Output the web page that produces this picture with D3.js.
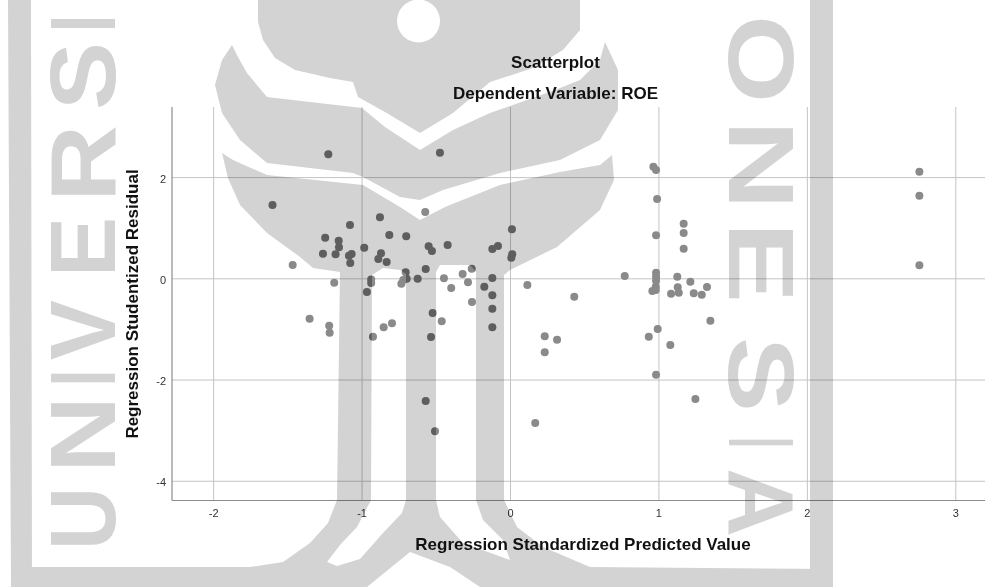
<!DOCTYPE html>
<html><head><meta charset="utf-8">
<script src="https://cdn.jsdelivr.net/npm/d3@7"></script>
<style>
html,body{margin:0;padding:0;background:#fff}
svg{display:block;filter:blur(0.35px)}
text{font-family:"Liberation Sans",Arial,sans-serif}
</style></head><body>
<svg id="c" width="985" height="587"></svg>
<script>
const titleText = "Scatterplot";
const subtitleText = "Dependent Variable: ROE";
const xLabel = "Regression Standardized Predicted Value";
const yLabel = "Regression Studentized Residual";
const xTicks = [-2,-1,0,1,2,3];
const yTicks = [2,0,-2,-4];
const predicted = [-1.60,-0.876,-1.078,-0.571,-1.245,-1.154,-1.152,-0.813,-0.699,0.013,-0.982,-1.26,-1.175,-1.067,-1.085,-1.076,-0.869,-0.887,-0.831,-0.548,-0.526,-0.42,-0.081,-0.119,0.015,0.009,-1.464,-0.568,-0.258,-0.703,-0.319,-0.119,-1.184,-0.935,-0.935,-0.696,-0.622,-0.445,-0.283,-0.719,-0.732,-0.396,-0.173,0.117,-0.964,-0.119,-0.256,-0.119,-1.35,-1.218,-1.215,-0.795,-0.851,-0.923,-0.521,-0.46,-0.532,-0.119,-1.224,-0.472,-0.568,-0.505,0.433,0.773,0.966,0.984,0.991,0.984,1.17,1.17,1.17,2.758,2.758,2.758,0.984,0.984,0.984,0.982,0.982,0.959,1.127,1.215,1.327,1.13,1.137,1.085,1.238,1.292,1.35,0.995,0.935,1.08,0.984,1.249,0.17,0.234,0.317,0.234];
const residual = [1.45,1.205,1.053,1.31,0.80,0.743,0.613,0.856,0.83,0.968,0.605,0.486,0.474,0.48,0.447,0.302,0.494,0.381,0.322,0.632,0.54,0.658,0.638,0.579,0.474,0.407,0.263,0.184,0.19,0.119,0.085,0.006,-0.087,-0.024,-0.093,-0.008,-0.008,0,-0.079,-0.034,-0.107,-0.192,-0.166,-0.132,-0.271,-0.336,-0.468,-0.601,-0.798,-0.937,-1.075,-0.889,-0.968,-1.154,-0.686,-0.85,-1.16,-0.968,2.451,2.482,-2.425,-3.024,-0.364,0.045,2.206,2.14,1.567,0.85,1.079,0.895,0.585,2.107,1.632,0.257,0.111,0.032,-0.047,-0.166,-0.231,-0.251,0.032,-0.067,-0.172,-0.178,-0.285,-0.304,-0.296,-0.324,-0.838,-1.002,-1.154,-1.318,-1.905,-2.385,-2.86,-1.146,-1.213,-1.462];

// watermark decoration (scanned emblem behind the chart)
const wmShapes = [
 [[258,0],[258,22],[263,40],[275,58],[295,70],[330,78],[353,82],[358,97],[385,112],[420,133],[453,113],[490,82],[533,68],[563,50],[580,30],[580,0]],
 [[232,45],[222,60],[215,85],[222,113],[240,140],[267,163],[353,173],[363,177],[400,197],[420,200],[443,190],[500,173],[560,160],[600,140],[618,110],[618,70],[605,42],[600,60],[580,80],[555,90],[490,113],[453,130],[420,150],[385,127],[362,108],[267,97],[247,73],[238,57]],
 [[222,153],[233,160],[267,175],[363,185],[400,207],[420,220],[445,207],[500,185],[560,172],[600,165],[612,155],[614,180],[600,210],[557,247],[510,270],[504,275],[476,272],[470,265],[440,265],[436,272],[406,274],[400,270],[383,268],[372,275],[340,272],[313,268],[300,257],[267,233],[240,205],[228,178]],
 [[340,270],[372,270],[371,500],[337,500]],
 [[406,270],[436,270],[436,500],[406,500]],
 [[476,270],[504,270],[504,500],[476,500]],
 [[337,500],[328,523],[310,543],[283,562],[250,567],[250,587],[367,587],[410,552],[450,567],[480,587],[833,587],[833,569],[590,567],[543,547],[517,527],[504,500],[476,500],[483,520],[503,540],[510,560],[463,543],[440,517],[436,500],[406,500],[402,513],[383,533],[360,559],[337,566],[327,562],[340,545],[357,527],[371,500]],
 [[8,0],[31,0],[32,587],[11,587]],
 [[11,567],[255,567],[255,587],[11,587]],
 [[810,0],[833,0],[833,587],[810,587]]
];
const wmHole = {cx:418.5, cy:21, r:21.5};
const wmLeft = [["U",550,487],["N",473,396],["I",386,370],["V",360,300],["E",277,217],["R",202,125],["S",110,42],["I",32,15]];
const wmRight = [["O",15,103],["N",120,210],["E",222,303],["S",337,412],["I",437,448],["A",468,537]];

const svg = d3.select("#c");
const W=985,H=587;
const x = d3.scaleLinear().domain([-2.277,3.2]).range([172,985]);
const y = d3.scaleLinear().domain([3.385,-4.38]).range([107,500]);
const points = predicted.map((p,i)=>({p,r:residual[i]}));

svg.append("rect").attr("width",W).attr("height",H).attr("fill","#fff");

const defs = svg.append("defs");
const wm = defs.append("g").attr("id","wm");
wm.selectAll("polygon").data(wmShapes).join("polygon")
  .attr("points",d=>d.join(" ")).attr("fill","#d3d3d3");
wm.append("circle").attr("cx",wmHole.cx).attr("cy",wmHole.cy).attr("r",wmHole.r).attr("fill","#fff");
const wmStyle = s=>s.attr("font-size",92).attr("font-weight","bold").attr("fill","#d3d3d3")
  .attr("lengthAdjust","spacingAndGlyphs");
wm.selectAll("text.l").data(wmLeft).join("text").attr("class","l").call(wmStyle)
  .attr("transform",d=>`translate(115,${d[1]}) rotate(-90)`)
  .attr("textLength",d=>d[1]-d[2]).text(d=>d[0]);
wm.selectAll("text.r").data(wmRight).join("text").attr("class","r").call(wmStyle)
  .attr("transform",d=>`translate(729,${d[1]}) rotate(90)`)
  .attr("textLength",d=>d[2]-d[1]).text(d=>d[0]);
defs.append("clipPath").attr("id","dotclip").selectAll("circle").data(points).join("circle")
  .attr("cx",d=>x(d.p)).attr("cy",d=>y(d.r)).attr("r",4);

// axes with gridlines
const gx = svg.append("g").attr("transform","translate(0,500)")
  .call(d3.axisBottom(x).tickValues(xTicks).tickFormat(String).tickSize(-393).tickPadding(9));
const gy = svg.append("g").attr("transform","translate(172,0)")
  .call(d3.axisLeft(y).tickValues(yTicks).tickFormat(String).tickSize(-813).tickPadding(6));
[gx,gy].forEach(g=>{
  g.select(".domain").remove();
  g.selectAll(".tick line").attr("stroke","#c4c4c4").attr("stroke-width",1);
  g.selectAll(".tick text").attr("font-size",11).attr("fill","#333").style("font-family",'"Liberation Sans",Arial,sans-serif');
});
gy.selectAll(".tick text").attr("dy","0.45em");
svg.append("line").attr("x1",172).attr("x2",172).attr("y1",107).attr("y2",500.5).attr("stroke","#8c8c8c").attr("stroke-width",1.2);
svg.append("line").attr("x1",172).attr("x2",985).attr("y1",500.5).attr("y2",500.5).attr("stroke","#8c8c8c").attr("stroke-width",1.2);

svg.append("g").selectAll("circle").data(points).join("circle")
  .attr("cx",d=>x(d.p)).attr("cy",d=>y(d.r)).attr("r",4).attr("fill","#8a8a8a");

svg.append("use").attr("href","#wm").style("mix-blend-mode","multiply");
svg.append("g").attr("clip-path","url(#dotclip)").style("mix-blend-mode","multiply")
  .append("use").attr("href","#wm");

const label = (t,px,py)=>svg.append("text").text(t).attr("x",px).attr("y",py)
  .attr("text-anchor","middle").attr("font-size",17).attr("font-weight","bold").attr("fill","#111");
label(titleText,555.5,68);
label(subtitleText,555.5,99);
label(xLabel,583,550);
svg.append("text").text(yLabel).attr("transform","translate(138,304) rotate(-90)")
  .attr("text-anchor","middle").attr("font-size",17).attr("font-weight","bold").attr("fill","#111");
</script>
</body></html>
